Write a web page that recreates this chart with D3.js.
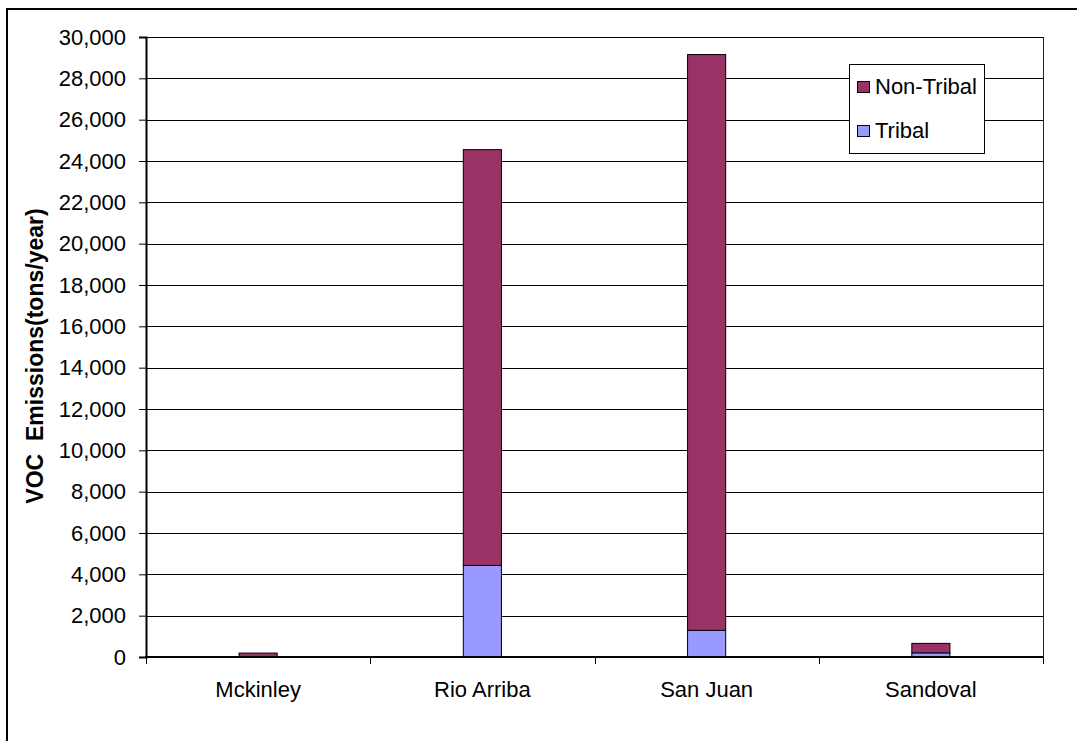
<!DOCTYPE html>
<html>
<head>
<meta charset="utf-8">
<script src="https://cdn.jsdelivr.net/npm/d3@7"></script>
<style>
  html, body { margin: 0; padding: 0; background: #fff; overflow: hidden; }
  svg { display: block; font-family: "Liberation Sans", Arial, sans-serif; }
</style>
</head>
<body>
<svg id="chart" width="1077" height="741"></svg>
<script>
const categories = ["Mckinley", "Rio Arriba", "San Juan", "Sandoval"];
const tribal = [0, 4430, 1290, 200];
const nonTribal = [190, 20120, 27860, 460];
const seriesNames = ["Non-Tribal", "Tribal"];
const seriesColors = ["#993366", "#9999FF"];
const yTicks = [0, 2000, 4000, 6000, 8000, 10000, 12000, 14000, 16000, 18000, 20000, 22000, 24000, 26000, 28000, 30000];
const yTitle = "VOC\u00A0\u00A0Emissions(tons/year)";

const svg = d3.select("#chart");
const L = 146, R = 1043, T = 37, B = 657;

// outer chart border (extends past right/bottom edges)
svg.append("rect").attr("x", 7).attr("y", 9).attr("width", 1100).attr("height", 800)
  .attr("fill", "#fff").attr("stroke", "#000").attr("stroke-width", 2);

const x = d3.scaleBand().domain(categories).range([L, R]).padding(0);
const y = d3.scaleLinear().domain([0, 30000]).range([B, T]);

// gridlines
svg.append("g").selectAll("line").data(yTicks.filter(d => d > 0)).join("line")
  .attr("x1", L).attr("x2", R)
  .attr("y1", d => Math.round(y(d)) + 0.5).attr("y2", d => Math.round(y(d)) + 0.5)
  .attr("stroke", "#000").attr("stroke-width", 1);

// plot area right border
svg.append("line").attr("x1", R + 0.5).attr("x2", R + 0.5).attr("y1", T).attr("y2", B)
  .attr("stroke", "#222").attr("stroke-width", 1);

// stacked bars
const rows = categories.map((c, i) => ({ cat: c, "Tribal": tribal[i], "Non-Tribal": nonTribal[i] }));
const stack = d3.stack().keys(["Tribal", "Non-Tribal"])(rows);
const bw = x.bandwidth() * 0.17;
const colorOf = k => seriesColors[seriesNames.indexOf(k)];

svg.append("g").selectAll("g").data(stack).join("g")
  .attr("fill", d => colorOf(d.key))
  .selectAll("rect").data(d => d.filter(p => p[1] - p[0] > 0)).join("rect")
  .attr("x", d => x(d.data.cat) + x.bandwidth() / 2 - bw / 2)
  .attr("width", bw)
  .attr("y", d => y(d[1]))
  .attr("height", d => y(d[0]) - y(d[1]))
  .attr("stroke", "#000").attr("stroke-width", 1);

// y axis
const yAxis = d3.axisLeft(y).tickValues(yTicks).tickSize(7).tickPadding(13)
  .tickFormat(d3.format(","));
const gy = svg.append("g").attr("transform", `translate(${L},0)`).call(yAxis);
gy.select(".domain").attr("stroke", "#000").attr("stroke-width", 2);
gy.selectAll(".tick line").attr("stroke", "#000");
gy.selectAll("text").attr("font-size", 22).attr("fill", "#000")
  .attr("font-family", "Liberation Sans, Arial, sans-serif");

// x axis baseline
svg.append("line").attr("x1", L - 1).attr("x2", R).attr("y1", B).attr("y2", B)
  .attr("stroke", "#000").attr("stroke-width", 2);
// x boundary ticks
const bounds = categories.map(c => x(c)).concat([R]);
svg.append("g").selectAll("line").data(bounds).join("line")
  .attr("x1", d => Math.round(d) + 0.5).attr("x2", d => Math.round(d) + 0.5)
  .attr("y1", B).attr("y2", B + 7).attr("stroke", "#000").attr("stroke-width", 1);
// x labels
svg.append("g").selectAll("text").data(categories).join("text")
  .attr("x", d => x(d) + x.bandwidth() / 2).attr("y", 697)
  .attr("text-anchor", "middle").attr("font-size", 22).attr("fill", "#000")
  .text(d => d);

// y title
svg.append("text").attr("transform", "translate(43,356) rotate(-90)")
  .attr("text-anchor", "middle").attr("font-size", 23).attr("font-weight", "bold")
  .attr("fill", "#000").text(yTitle);

// legend
const lg = svg.append("g");
lg.append("rect").attr("x", 849.5).attr("y", 64.5).attr("width", 135).attr("height", 89)
  .attr("fill", "#fff").attr("stroke", "#000").attr("stroke-width", 1);
const legY = [94, 138];
seriesNames.forEach((s, i) => {
  lg.append("rect").attr("x", 857.5).attr("y", legY[i] - 12.5).attr("width", 12).attr("height", 11)
    .attr("fill", seriesColors[i]).attr("stroke", "#000").attr("stroke-width", 1);
  lg.append("text").attr("x", 875).attr("y", legY[i]).attr("font-size", 22).attr("fill", "#000").text(s);
});
</script>
</body>
</html>
